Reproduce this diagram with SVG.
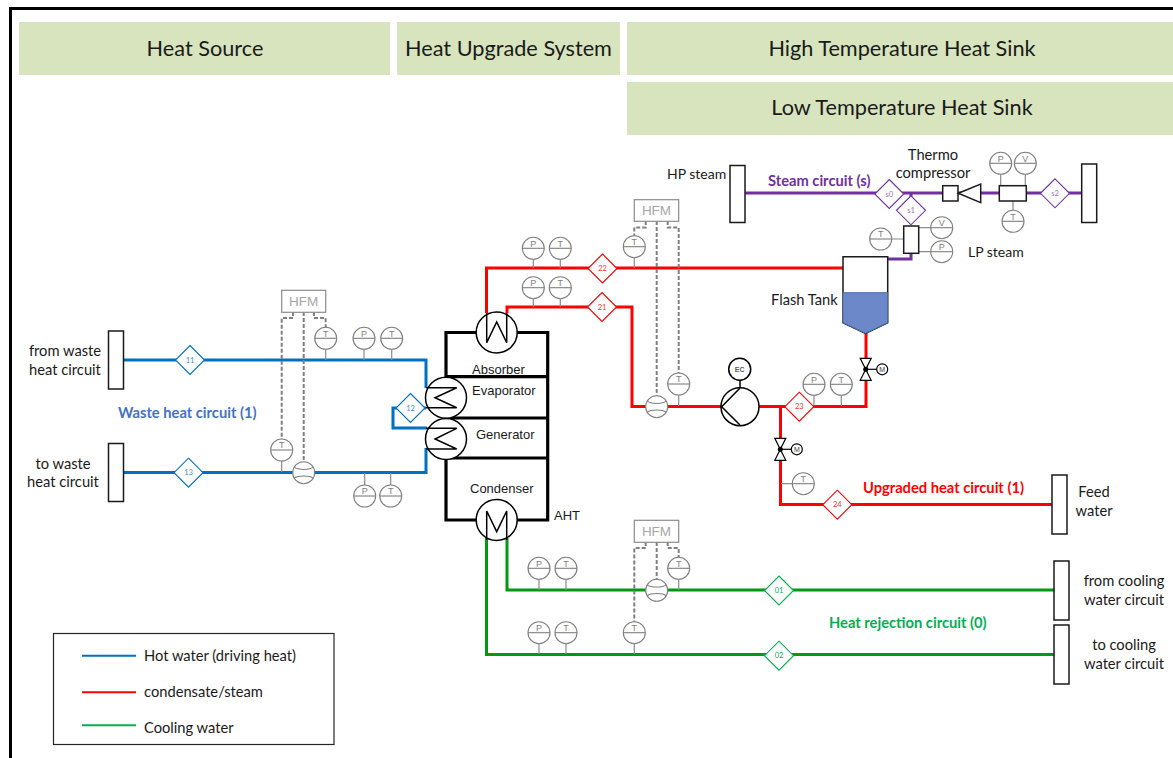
<svg xmlns="http://www.w3.org/2000/svg" xmlns:xlink="http://www.w3.org/1999/xlink" width="1173" height="758" viewBox="0 0 1173 758">
<style>
text{font-family:"Lato","Liberation Sans",sans-serif;fill:#1a1a1a;font-size:14.700px}
.c{text-anchor:middle}
.hd{font-size:21.700px;text-anchor:middle}
.ar{font-family:"Liberation Sans",Arial,sans-serif;font-size:13px}
.b{font-weight:700;font-size:14.700px}
.st{font-size:14px}
.band{fill:#d7e4bd}
.box{fill:#fff;stroke:#1a1a1a;stroke-width:1.5}
.pipe{fill:none;stroke-width:3;stroke-linejoin:miter}
.blue{stroke:#0070c0}.red{stroke:#ff0000}.green{stroke:#009a10}.purple{stroke:#7030a0}
.tick{fill:none;stroke:#8c8c8c;stroke-width:1.2}
.dash{fill:none;stroke:#808080;stroke-width:2;stroke-dasharray:4 2}
.inst{fill:#fff;stroke:#7f7f7f;stroke-width:1.1}
.il{font-family:"Liberation Sans",Arial,sans-serif;font-size:9px;fill:#808080;text-anchor:middle}
.hfm{fill:#fff;stroke:#8c8c8c;stroke-width:1.2}
.hfmt{font-family:"Liberation Sans",Arial,sans-serif;font-size:13.500px;fill:#a6a6a6;text-anchor:middle}
.dia{fill:#fff;stroke-width:1.1}
.dt{font-size:7.500px;text-anchor:middle}
.hx{fill:#fff;stroke:#000;stroke-width:1.5}
.coil{fill:none;stroke:#000;stroke-width:1.5}
.sh{fill:none;stroke:#000;stroke-width:3.2}
.vlv{fill:#fff;stroke:#000;stroke-width:1.2}
</style>
<defs>
<g id="gauge"><circle class="inst" r="11"/><line class="inst" x1="-11" x2="11" y1="0" y2="0"/></g>
<g id="fm"><circle class="inst" r="11"/><path class="inst" style="fill:none" d="M-9.5-5.5C-6-2.5 6-2.5 9.500-5.500M-9.500 5.500C-6 2.500 6 2.500 9.500 5.500"/></g>
<path id="d" d="M0-14.500L14.500 0L0 14.500L-14.500 0Z"/>
<g id="valve"><path class="vlv" d="M-5.500-11H5.500L-5.500 11H5.500Z"/><line x1="0" x2="11" y1="0" y2="0" stroke="#000" stroke-width="1.200"/><circle r="2.500" fill="#000"/><circle class="vlv" cx="16.500" r="5.500"/></g>
</defs>

<path id="frame" d="M10.500 758V8.500H1173" fill="none" stroke="#000" stroke-width="3"/>

<g id="headers">
<rect class="band" x="19" y="22" width="371" height="53"/><text class="hd" x="205" y="56">Heat Source</text>
<rect class="band" x="397" y="22" width="223" height="53"/><text class="hd" x="508.500" y="56">Heat Upgrade System</text>
<rect class="band" x="627" y="22" width="546" height="53"/><text class="hd" x="902" y="56">High Temperature Heat Sink</text>
<rect class="band" x="627" y="82" width="546" height="53"/><text class="hd" x="902" y="115">Low Temperature Heat Sink</text>
</g>

<g id="connectors">
<path class="pipe blue" d="M123 360H426V388"/>
<path class="pipe blue" d="M123 472.500H426V448"/>
<path class="pipe blue" d="M426 408H393V428H427"/>
<path class="pipe red" d="M486.500 313V268H843"/>
<path class="pipe red" d="M507 313V307H632V406.500H722"/>
<path class="pipe red" d="M759 406.500H866V333"/>
<path class="pipe red" d="M780.500 406.500V504.500H1052"/>
<path class="pipe green" d="M507 538V590H1054"/>
<path class="pipe green" d="M486.500 538V654.500H1054"/>
<path class="pipe purple" d="M745 193H1082"/>
<path class="pipe purple" d="M911 253V259H887"/>
<line class="pipe purple" x1="911" y1="193" x2="911" y2="197"/>
<g id="signal-lines">
<path class="dash" d="M293 312V318H281.700V440"/><path class="dash" d="M303.700 312V462"/><path class="dash" d="M314 312V318H325.700V328"/>
<path class="dash" d="M645.700 221V227.500H634.300V236"/><path class="dash" d="M656.700 221V396"/><path class="dash" d="M667.700 221V227.500H678.700V373"/>
<path class="dash" d="M645.700 542V548H634.300V622"/><path class="dash" d="M656.700 542V580"/><path class="dash" d="M667.700 542V548H678.700V558"/>
</g>
</g>

<g id="tick-lines">
<path class="tick" d="M281.700 461V472M325.700 349V360M364 349V360M391.700 349V360M364.700 485V473M390.700 485V473"/>
<path class="tick" d="M533.300 259V268M560.300 259V268M533.300 299V307M560.300 299V307M634.300 258V268M678.700 395V406M814 395V406M841.300 395V406M781 483.700H792"/>
<path class="tick" d="M539 579V590M566 579V590M678.700 579V590M539 644V654M566 644V654M634.300 644V654"/>
<path class="tick" d="M1000.700 174V186M1025.300 174V186M1013 201V210M891.700 239H904M918.700 227.700H930.700M918.700 251.700H930.700"/>
</g>

<g id="aht-shell">
<path class="sh" d="M446 458V332.500H547.700V520H446V458H547.700M446 376.700H547.700M446 418H547.700"/>
</g>

<g id="absorber"><circle class="hx" cx="496.700" cy="332.500" r="20.500"/><path class="coil" d="M486.700 313V342.700L496.700 322L506.700 342.700V313"/><text class="ar" x="472" y="373.500">Absorber</text></g>
<g id="evaporator"><circle class="hx" cx="446" cy="397.700" r="20.500"/><path class="coil" d="M426 387.700H456.700L435 397.700L456.700 407.700H426"/><text class="ar" x="472" y="394.500">Evaporator</text></g>
<g id="generator"><circle class="hx" cx="446" cy="439" r="20.500"/><path class="coil" d="M426 428.300H456.700L435 439L456.700 449H426"/><text class="ar" x="476" y="439">Generator</text></g>
<g id="condenser"><circle class="hx" cx="496.700" cy="520" r="20.500"/><path class="coil" d="M486.700 540V511L496.700 531.700L506.700 511V540"/><text class="ar" x="470" y="493">Condenser</text></g>
<text id="aht-label" class="ar" x="554" y="520">AHT</text>

<g id="from-waste"><rect class="box" x="108.500" y="331" width="15" height="58"/><text class="c" x="65" y="356">from waste</text><text class="c" x="65" y="375">heat circuit</text></g>
<g id="to-waste"><rect class="box" x="108.500" y="443.500" width="15" height="58"/><text class="c" x="63" y="469">to waste</text><text class="c" x="63" y="487">heat circuit</text></g>
<g id="hp-steam"><rect class="box" x="730" y="165.500" width="15" height="57"/><text class="st" x="667" y="179">HP steam</text></g>
<g id="lp-steam"><rect class="box" x="1081.700" y="164" width="15" height="58.500"/><text class="st" x="968" y="257">LP steam</text></g>
<g id="feed-water"><rect class="box" x="1052" y="475" width="15" height="59"/><text class="c" x="1094" y="497">Feed</text><text class="c" x="1094" y="516">water</text></g>
<g id="from-cooling"><rect class="box" x="1054" y="561" width="15" height="59"/><text class="c" x="1124" y="586">from cooling</text><text class="c" x="1124" y="605">water circuit</text></g>
<g id="to-cooling"><rect class="box" x="1054" y="625" width="15" height="59"/><text class="c" x="1124" y="650">to cooling</text><text class="c" x="1124" y="669">water circuit</text></g>

<g id="flash-tank">
<path d="M843 256.700H887.700V322.700L865.500 333.300L843 322.700Z" fill="#fff" stroke="#1a1a1a" stroke-width="1.500"/>
<path d="M843 292.700H887.700V322.700L865.500 333.300L843 322.700Z" fill="#6c88c8" stroke="#4a6fa5" stroke-width="1"/>
<text x="771" y="305">Flash Tank</text>
</g>

<g id="thermo-compressor">
<rect class="box" x="942.700" y="185.700" width="15.300" height="15.300"/>
<path d="M958.300 193.300L980.700 184V202.700Z" fill="#fff" stroke="#1a1a1a" stroke-width="1.500"/>
<text class="c" x="933" y="160">Thermo</text><text class="c" x="933" y="178">compressor</text>
</g>
<rect id="steam-meter" class="box" x="999.300" y="185.700" width="27" height="15.300"/>
<rect id="lp-header" class="box" x="903.700" y="226" width="15" height="27.300"/>

<g id="pump"><circle class="hx" cx="740" cy="406.700" r="19"/><path class="coil" d="M740 388L721.700 406.700L740 425"/><line class="coil" x1="740" x2="740" y1="380" y2="388"/><circle class="hx" cx="739.700" cy="369.300" r="11"/><text class="c" x="739.700" y="372" style="font-family:'Liberation Sans',sans-serif;font-size:7px;font-weight:700;fill:#595959">EC</text></g>

<g id="valve-1"><use href="#valve" x="865.700" y="369.300"/><text class="c" x="882.200" y="372" style="font-family:'Liberation Sans',sans-serif;font-size:7px;fill:#404040">M</text></g>
<g id="valve-2"><use href="#valve" x="780.300" y="449.300"/><text class="c" x="796.800" y="452" style="font-family:'Liberation Sans',sans-serif;font-size:7px;fill:#404040">M</text></g>

<g id="hfm-1"><rect class="hfm" x="281.700" y="290.300" width="44" height="22"/><text class="hfmt" x="303.700" y="306">HFM</text></g>
<g id="hfm-2"><rect class="hfm" x="634.300" y="199.700" width="44.400" height="21.600"/><text class="hfmt" x="656.500" y="215">HFM</text></g>
<g id="hfm-3"><rect class="hfm" x="634.300" y="520.300" width="44.400" height="22"/><text class="hfmt" x="656.500" y="536">HFM</text></g>

<g id="flowmeters">
<use href="#fm" x="303.700" y="472.700"/><use href="#fm" x="656.700" y="406.700"/><use href="#fm" x="656.700" y="590.300"/>
</g>

<g id="gauges">
<g id="g1"><use href="#gauge" x="325.700" y="338.300"/><text class="il" x="325.700" y="336.500">T</text></g>
<g id="g2"><use href="#gauge" x="364" y="338.300"/><text class="il" x="364" y="336.500">P</text></g>
<g id="g3"><use href="#gauge" x="391.700" y="338.300"/><text class="il" x="391.700" y="336.500">T</text></g>
<g id="g4"><use href="#gauge" x="281.700" y="450"/><text class="il" x="281.700" y="448.200">T</text></g>
<g id="g5"><use href="#gauge" x="364.700" y="496"/><text class="il" x="364.700" y="494.200">P</text></g>
<g id="g6"><use href="#gauge" x="390.700" y="496"/><text class="il" x="390.700" y="494.200">T</text></g>
<g id="g7"><use href="#gauge" x="533.300" y="248.300"/><text class="il" x="533.300" y="246.500">P</text></g>
<g id="g8"><use href="#gauge" x="560.300" y="248.300"/><text class="il" x="560.300" y="246.500">T</text></g>
<g id="g9"><use href="#gauge" x="533.300" y="287.700"/><text class="il" x="533.300" y="285.900">P</text></g>
<g id="g10"><use href="#gauge" x="560.300" y="287.700"/><text class="il" x="560.300" y="285.900">T</text></g>
<g id="g11"><use href="#gauge" x="634.300" y="246.700"/><text class="il" x="634.300" y="244.900">T</text></g>
<g id="g12"><use href="#gauge" x="678.700" y="384"/><text class="il" x="678.700" y="382.200">T</text></g>
<g id="g13"><use href="#gauge" x="814" y="384.300"/><text class="il" x="814" y="382.500">P</text></g>
<g id="g14"><use href="#gauge" x="841.300" y="384.300"/><text class="il" x="841.300" y="382.500">T</text></g>
<g id="g15"><use href="#gauge" x="803.300" y="483.700"/><text class="il" x="803.300" y="481.900">T</text></g>
<g id="g16"><use href="#gauge" x="539" y="568.300"/><text class="il" x="539" y="566.500">P</text></g>
<g id="g17"><use href="#gauge" x="566" y="568.300"/><text class="il" x="566" y="566.500">T</text></g>
<g id="g18"><use href="#gauge" x="678.700" y="568.300"/><text class="il" x="678.700" y="566.500">T</text></g>
<g id="g19"><use href="#gauge" x="539" y="632.700"/><text class="il" x="539" y="630.900">P</text></g>
<g id="g20"><use href="#gauge" x="566" y="632.700"/><text class="il" x="566" y="630.900">T</text></g>
<g id="g21"><use href="#gauge" x="634.300" y="632.700"/><text class="il" x="634.300" y="630.900">T</text></g>
<g id="g22"><use href="#gauge" x="1000.700" y="163.300"/><text class="il" x="1000.700" y="161.500">P</text></g>
<g id="g23"><use href="#gauge" x="1025.300" y="163.300"/><text class="il" x="1025.300" y="161.500">V</text></g>
<g id="g24"><use href="#gauge" x="1013" y="221.300"/><text class="il" x="1013" y="219.500">T</text></g>
<g id="g25"><use href="#gauge" x="880.700" y="239"/><text class="il" x="880.700" y="237.200">T</text></g>
<g id="g26"><use href="#gauge" x="941.700" y="227.700"/><text class="il" x="941.700" y="225.900">V</text></g>
<g id="g27"><use href="#gauge" x="941.700" y="251.700"/><text class="il" x="941.700" y="249.900">P</text></g>
</g>

<g id="stream-points">
<g id="s11"><use href="#d" x="190" y="360" class="dia" stroke="#0070c0"/><text class="dt" x="190" y="362.500" style="fill:#3f8fd0">11</text></g>
<g id="s12"><use href="#d" x="410.500" y="408" class="dia" stroke="#0070c0"/><text class="dt" x="410.500" y="410.500" style="fill:#3f8fd0">12</text></g>
<g id="s13"><use href="#d" x="188.500" y="472.700" class="dia" stroke="#0070c0"/><text class="dt" x="188.500" y="475.200" style="fill:#3f8fd0">13</text></g>
<g id="s21"><use href="#d" x="602" y="307" class="dia" stroke="#ff0000"/><text class="dt" x="602" y="309.500" style="fill:#ff3030">21</text></g>
<g id="s22"><use href="#d" x="602.500" y="268.500" class="dia" stroke="#ff0000"/><text class="dt" x="602.500" y="271" style="fill:#ff3030">22</text></g>
<g id="s23"><use href="#d" x="799.300" y="406.700" class="dia" stroke="#ff0000"/><text class="dt" x="799.300" y="409.200" style="fill:#ff3030">23</text></g>
<g id="s24"><use href="#d" x="837.300" y="504.700" class="dia" stroke="#ff0000"/><text class="dt" x="837.300" y="507.200" style="fill:#ff3030">24</text></g>
<g id="s01"><use href="#d" x="779" y="590.500" class="dia" stroke="#00b050"/><text class="dt" x="779" y="593" style="fill:#00b050">01</text></g>
<g id="s02"><use href="#d" x="779" y="655.700" class="dia" stroke="#00b050"/><text class="dt" x="779" y="658.200" style="fill:#00b050">02</text></g>
<g id="s0"><use href="#d" x="889.300" y="194" class="dia" stroke="#7030a0"/><text class="dt" x="889.300" y="196.500" style="fill:#9a6fc0">s0</text></g>
<g id="s1"><use href="#d" x="911" y="210.300" class="dia" stroke="#7030a0"/><text class="dt" x="911" y="212.800" style="fill:#9a6fc0">s1</text></g>
<g id="s2"><use href="#d" x="1055" y="193.300" class="dia" stroke="#7030a0"/><text class="dt" x="1055" y="195.800" style="fill:#9a6fc0">s2</text></g>
</g>

<g id="circuit-labels">
<text class="b" x="118" y="418" style="fill:#4472c4">Waste heat circuit (1)</text>
<text class="b" x="768" y="186" style="fill:#7030a0">Steam circuit (s)</text>
<text class="b" x="863" y="493" style="fill:#ff0000">Upgraded heat circuit (1)</text>
<text class="b" x="829" y="628" style="fill:#00b050">Heat rejection circuit (0)</text>
</g>

<g id="legend">
<rect x="53.500" y="633.500" width="280.500" height="111" fill="#fff" stroke="#262626" stroke-width="1.200"/>
<line x1="82" x2="136" y1="655.700" y2="655.700" stroke="#0070c0" stroke-width="2"/>
<line x1="82" x2="136" y1="692.300" y2="692.300" stroke="#ff0000" stroke-width="2"/>
<line x1="82" x2="136" y1="725.300" y2="725.300" stroke="#00b050" stroke-width="2"/>
<text x="144" y="661">Hot water (driving heat)</text>
<text x="144" y="697">condensate/steam</text>
<text x="144" y="733">Cooling water</text>
</g>
</svg>
